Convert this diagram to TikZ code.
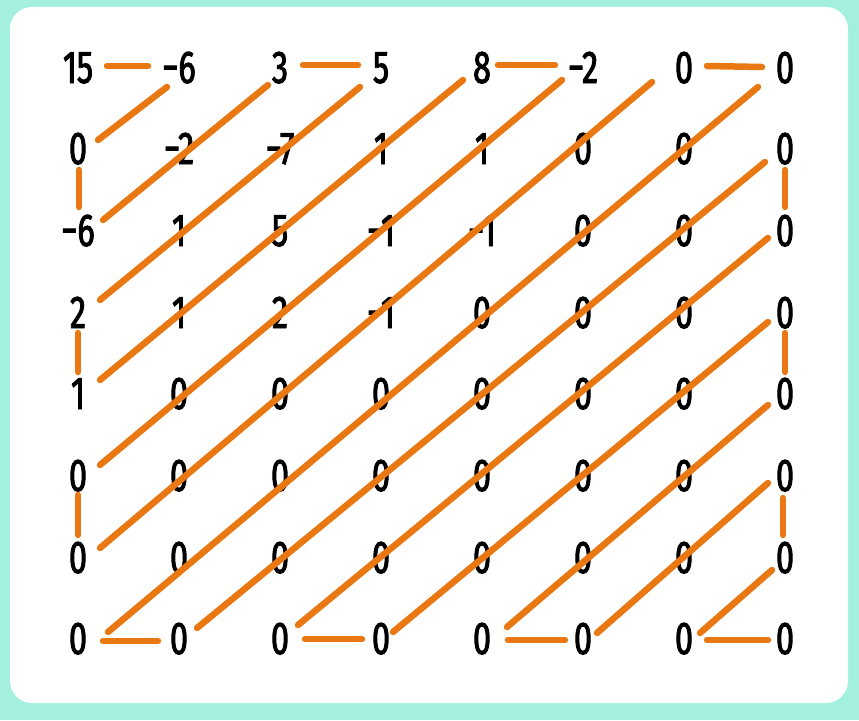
\documentclass[tikz,border=0pt]{standalone}
\usepackage{fontspec}
\setmainfont{Fira Sans}[FakeStretch=0.7,FakeBold=2]
\definecolor{mint}{RGB}{162,240,221}
\definecolor{zzorange}{RGB}{233,120,18}
\tikzset{
  num/.style={font=\fontsize{46}{46}\selectfont, inner sep=0pt, text height=32pt, text depth=0pt, anchor=center, text=black},
  zz/.style={draw=zzorange, line width=6.5pt, line cap=round}
}
\begin{document}
\begin{tikzpicture}[x=1pt,y=-1pt]
\useasboundingbox (0,0) rectangle (859,720);
\fill[mint] (0,0) rectangle (859,720);
\fill[white, rounded corners=22pt] (10,7) rectangle (848,703);
% numbers
\node[num] (n00) at (78,67) {15};
\node[num] (n01) at (179,67) {−6};
\node[num] (n02) at (280,67) {3};
\node[num] (n03) at (381,67) {5};
\node[num] (n04) at (482,67) {8};
\node[num] (n05) at (583,67) {−2};
\node[num] (n06) at (684,67) {0};
\node[num] (n07) at (785,67) {0};
\node[num] (n10) at (78,148) {0};
\node[num] (n11) at (179,148) {−2};
\node[num] (n12) at (280,148) {−7};
\node[num] (n13) at (381,148) {1};
\node[num] (n14) at (482,148) {1};
\node[num] (n15) at (583,148) {0};
\node[num] (n16) at (684,148) {0};
\node[num] (n17) at (785,148) {0};
\node[num] (n20) at (78,230) {−6};
\node[num] (n21) at (179,230) {1};
\node[num] (n22) at (280,230) {5};
\node[num] (n23) at (381,230) {−1};
\node[num] (n24) at (482,230) {−1};
\node[num] (n25) at (583,230) {0};
\node[num] (n26) at (684,230) {0};
\node[num] (n27) at (785,230) {0};
\node[num] (n30) at (78,312) {2};
\node[num] (n31) at (179,312) {1};
\node[num] (n32) at (280,312) {2};
\node[num] (n33) at (381,312) {−1};
\node[num] (n34) at (482,312) {0};
\node[num] (n35) at (583,312) {0};
\node[num] (n36) at (684,312) {0};
\node[num] (n37) at (785,312) {0};
\node[num] (n40) at (78,393) {1};
\node[num] (n41) at (179,393) {0};
\node[num] (n42) at (280,393) {0};
\node[num] (n43) at (381,393) {0};
\node[num] (n44) at (482,393) {0};
\node[num] (n45) at (583,393) {0};
\node[num] (n46) at (684,393) {0};
\node[num] (n47) at (785,393) {0};
\node[num] (n50) at (78,475) {0};
\node[num] (n51) at (179,475) {0};
\node[num] (n52) at (280,475) {0};
\node[num] (n53) at (381,475) {0};
\node[num] (n54) at (482,475) {0};
\node[num] (n55) at (583,475) {0};
\node[num] (n56) at (684,475) {0};
\node[num] (n57) at (785,475) {0};
\node[num] (n60) at (78,557) {0};
\node[num] (n61) at (179,557) {0};
\node[num] (n62) at (280,557) {0};
\node[num] (n63) at (381,557) {0};
\node[num] (n64) at (482,557) {0};
\node[num] (n65) at (583,557) {0};
\node[num] (n66) at (684,557) {0};
\node[num] (n67) at (785,557) {0};
\node[num] (n70) at (78,638) {0};
\node[num] (n71) at (179,638) {0};
\node[num] (n72) at (280,638) {0};
\node[num] (n73) at (381,638) {0};
\node[num] (n74) at (482,638) {0};
\node[num] (n75) at (583,638) {0};
\node[num] (n76) at (684,638) {0};
\node[num] (n77) at (785,638) {0};
% zigzag connectors
\draw[zz] ([shift={(29,-1)}]n00.center) -- ([shift={(-31,-1)}]n01.center);
\draw[zz] ([shift={(-12,20)}]n01.center) -- ([shift={(20,-8)}]n10.center);
\draw[zz] ([shift={(1,22)}]n10.center) -- ([shift={(1,-23)}]n20.center);
\draw[zz] ([shift={(25,-10)}]n20.center) -- ([shift={(-12,18)}]n02.center);
\draw[zz] ([shift={(23,-2)}]n02.center) -- ([shift={(-23,-2)}]n03.center);
\draw[zz] ([shift={(-21,20)}]n03.center) -- ([shift={(22,-12)}]n30.center);
\draw[zz] ([shift={(0,21)}]n30.center) -- ([shift={(0,-21)}]n40.center);
\draw[zz] ([shift={(22,-13)}]n40.center) -- ([shift={(-19,13)}]n04.center);
\draw[zz] ([shift={(16,-2)}]n04.center) -- ([shift={(-28,-2)}]n05.center);
\draw[zz] ([shift={(-21,13)}]n05.center) -- ([shift={(22,-10)}]n50.center);
\draw[zz] ([shift={(0,20)}]n50.center) -- ([shift={(0,-22)}]n60.center);
\draw[zz] ([shift={(22,-9)}]n60.center) -- ([shift={(-32,15)}]n06.center);
\draw[zz] ([shift={(23,-1)}]n06.center) -- ([shift={(-23,0)}]n07.center);
\draw[zz] ([shift={(-27,20)}]n07.center) -- ([shift={(30,-6)}]n70.center);
\draw[zz] ([shift={(25,3)}]n70.center) -- ([shift={(-21,3)}]n71.center);
\draw[zz] ([shift={(18,-10)}]n71.center) -- ([shift={(-20,14)}]n17.center);
\draw[zz] ([shift={(0,22)}]n17.center) -- ([shift={(0,-23)}]n27.center);
\draw[zz] ([shift={(-17,8)}]n27.center) -- ([shift={(18,-13)}]n72.center);
\draw[zz] ([shift={(25,1)}]n72.center) -- ([shift={(-19,1)}]n73.center);
\draw[zz] ([shift={(12,-6)}]n73.center) -- ([shift={(-17,10)}]n37.center);
\draw[zz] ([shift={(0,21)}]n37.center) -- ([shift={(0,-21)}]n47.center);
\draw[zz] ([shift={(-17,12)}]n47.center) -- ([shift={(25,-11)}]n74.center);
\draw[zz] ([shift={(26,2)}]n74.center) -- ([shift={(-18,2)}]n75.center);
\draw[zz] ([shift={(14,-5)}]n75.center) -- ([shift={(-17,8)}]n57.center);
\draw[zz] ([shift={(-2,23)}]n57.center) -- ([shift={(-2,-22)}]n67.center);
\draw[zz] ([shift={(-13,13)}]n67.center) -- ([shift={(16,-5)}]n76.center);
\draw[zz] ([shift={(23,2)}]n76.center) -- ([shift={(-17,2)}]n77.center);
\end{tikzpicture}
\end{document}
